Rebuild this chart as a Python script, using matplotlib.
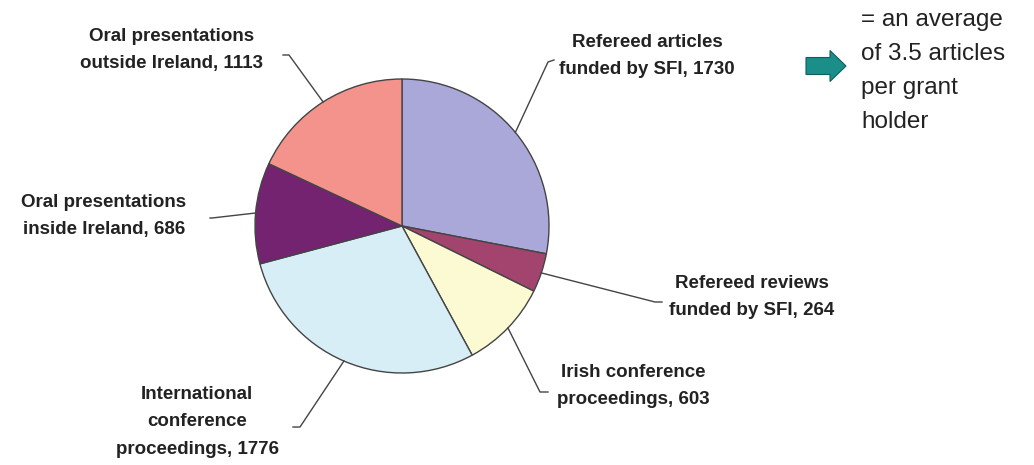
import numpy as np
import matplotlib
matplotlib.use("Agg")
import matplotlib.pyplot as plt
from matplotlib.patches import FancyArrow

labels = ["Refereed articles\nfunded by SFI, 1730",
          "Refereed reviews\nfunded by SFI, 264",
          "Irish conference\nproceedings, 603",
          "International\nconference\nproceedings, 1776",
          "Oral presentations\ninside Ireland, 686",
          "Oral presentations\noutside Ireland, 1113"]
values = [1730, 264, 603, 1776, 686, 1113]
colors = ["#a9a8d8", "#a3446f", "#fbfad3", "#d7eef6", "#732370", "#f4938b"]

W, H = 1034, 465
fig = plt.figure(figsize=(W / 100, H / 100), dpi=100)
ax = fig.add_axes([0, 0, 1, 1])

cx, cy, R = 402, H - 226, 147
wedges, _ = ax.pie(values, colors=colors, startangle=90, counterclock=False,
                   center=(cx, cy), radius=R,
                   wedgeprops=dict(edgecolor="#444444", linewidth=1.0))
ax.set_xlim(0, W)
ax.set_ylim(0, H)
ax.set_aspect("equal")
ax.axis("off")

font = dict(family=["Liberation Sans", "DejaVu Sans"], fontweight="bold",
            fontsize=13.5, color="#222222", linespacing=1.8)

# label layout (pixel coords, y from top): text centre, elbow, end
layout = [
    dict(txt=(647, 56), elbow=(548, 62), end=(554, 60)),
    dict(txt=(752, 297), elbow=(655, 302), end=(662, 302)),
    dict(txt=(633, 386), elbow=(540, 392), end=(548, 392)),
    dict(txt=(197, 422), elbow=(300, 427), end=(293, 427)),
    dict(txt=(104, 216), elbow=(212, 218), end=(210, 218)),
    dict(txt=(172, 50), elbow=(289, 55), end=(283, 55)),
]

for w, lab, L in zip(wedges, labels, layout):
    ang = np.deg2rad((w.theta1 + w.theta2) / 2)
    px, py = cx + R * np.cos(ang), cy + R * np.sin(ang)
    ex, ey = L["elbow"]
    fx, fy = L["end"]
    ax.plot([px, ex, fx], [py, H - ey, H - fy], color="#444444", lw=1.0)
    ax.text(L["txt"][0], H - L["txt"][1], lab, ha="center", va="center", **font)

# arrow
arr = FancyArrow(806, H - 66, 40, 0, width=17, head_width=31, head_length=16,
                 length_includes_head=True, facecolor="#1a8e89",
                 edgecolor="#0f5f5c", linewidth=0.8)
ax.add_patch(arr)

ax.text(861, H - 71, "= an average\nof 3.5 articles\nper grant\nholder",
        ha="left", va="center", family=["Liberation Sans", "DejaVu Sans"],
        fontsize=17.5, color="#222222", linespacing=1.72)

fig.savefig("out.png", dpi=100)
